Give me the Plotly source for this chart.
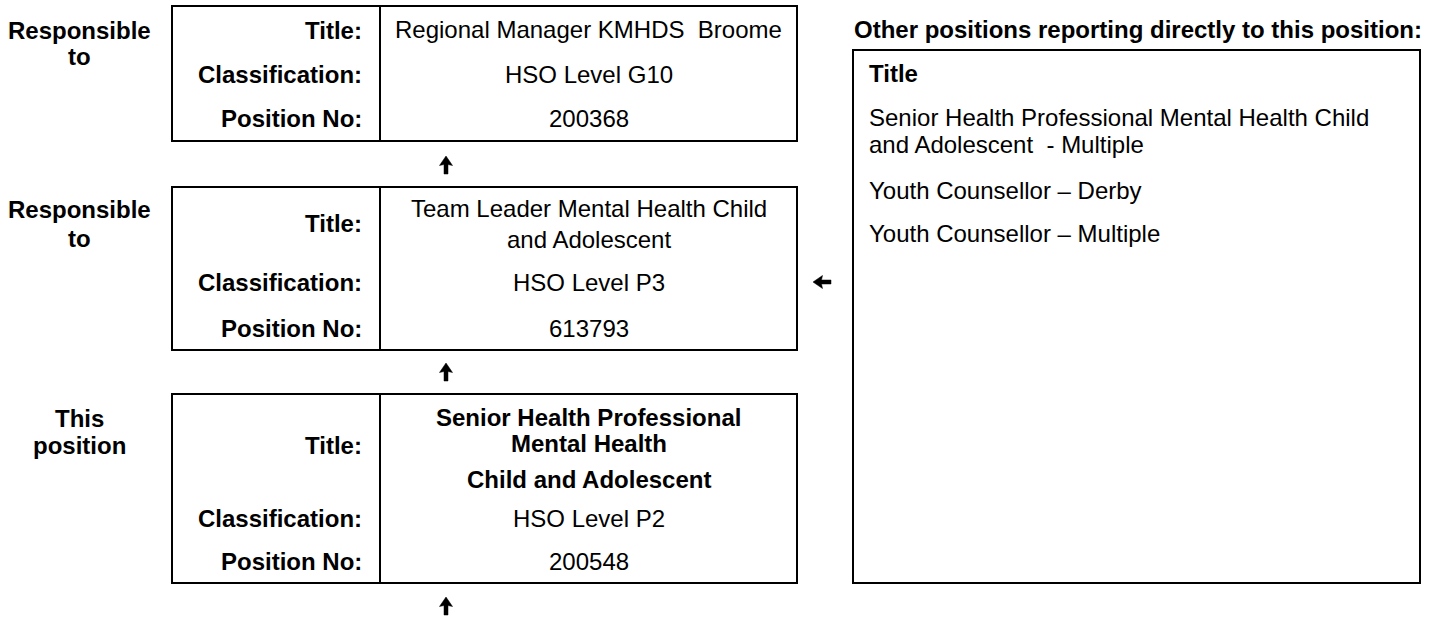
import plotly.graph_objects as go

# ---- content ----
left_labels = [["Responsible", "to"], ["Responsible", "to"], ["This", "position"]]
field_names = ["Title:", "Classification:", "Position No:"]
titles = [
    ["Regional Manager KMHDS\u00a0 Broome"],
    ["Team Leader Mental Health Child", "and Adolescent"],
    ["Senior Health Professional", "Mental Health", "Child and Adolescent"],
]
title_bold = [False, False, True]
classifications = ["HSO Level G10", "HSO Level P3", "HSO Level P2"]
position_nos = ["200368", "613793", "200548"]
other_heading = "Other positions reporting directly to this position:"
other_col_head = "Title"
other_positions = [
    ["Senior Health Professional Mental Health Child", "and Adolescent\u00a0 - Multiple"],
    ["Youth Counsellor \u2013 Derby"],
    ["Youth Counsellor \u2013 Multiple"],
]

# ---- layout geometry (pixels) ----
W, H = 1436, 620
FONT = "Liberation Sans, Arial, sans-serif"
FS = 24
BX0, BDIV, BX1 = 172, 380, 797
boxes_y = [(6, 141), (187, 350), (394, 583)]
field_y = [[30, 74, 118], [223, 282, 328], [445, 518, 561]]
title_line_y = [[29], [208, 239], [417, 443, 479]]
left_label_y = [[30, 56], [209, 238], [418, 445]]

fig = go.Figure()
shapes, ann = [], []

def txt(x, y, s, xanchor="center", bold=False, size=FS):
    ann.append(dict(x=x, y=y, xref="x", yref="y", text=(f"<b>{s}</b>" if bold else s),
                    showarrow=False, xanchor=xanchor, yanchor="middle",
                    font=dict(family=FONT, size=size, color="black")))

for i, (y0, y1) in enumerate(boxes_y):
    shapes.append(dict(type="rect", x0=BX0, x1=BX1, y0=y0, y1=y1, xref="x", yref="y",
                       line=dict(color="black", width=2), fillcolor="rgba(0,0,0,0)"))
    shapes.append(dict(type="line", x0=BDIV, x1=BDIV, y0=y0, y1=y1, xref="x", yref="y",
                       line=dict(color="black", width=2)))
    for j, name in enumerate(field_names):
        txt(364, field_y[i][j], name, xanchor="right", bold=True)
    vx = (BDIV + BX1) / 2
    for k, line in enumerate(titles[i]):
        txt(vx, title_line_y[i][k], line, bold=title_bold[i])
    txt(vx, field_y[i][1], classifications[i])
    txt(vx, field_y[i][2], position_nos[i])
    for k, line in enumerate(left_labels[i]):
        txt(79, left_label_y[i][k], line, bold=True)

# right panel
RX0, RX1, RY0, RY1 = 853, 1420, 50, 583
shapes.append(dict(type="rect", x0=RX0, x1=RX1, y0=RY0, y1=RY1, xref="x", yref="y",
                   line=dict(color="black", width=2), fillcolor="rgba(0,0,0,0)"))
txt(852, 29, other_heading, xanchor="left", bold=True)
txt(867, 73, other_col_head, xanchor="left", bold=True)
other_y = [[117, 144], [190, None], [233, None]]
for i, lines in enumerate(other_positions):
    for k, line in enumerate(lines):
        txt(867, other_y[i][k], line, xanchor="left")

# heavy block arrows drawn as filled paths (decoration)
def arrow(cx, cy, direction):
    pts = [(0, -9), (6.5, 0.5), (2, -0.5), (2, 9), (-2, 9), (-2, -0.5), (-6.5, 0.5)]
    if direction == "left":
        pts = [(py, -px) for px, py in pts]
    path = "M " + " L ".join(f"{cx + px},{cy + py}" for px, py in pts) + " Z"
    shapes.append(dict(type="path", path=path, xref="x", yref="y",
                       fillcolor="black", line=dict(color="black", width=0.5)))

for yy in [165, 372, 606]:
    arrow(446, yy, "up")
arrow(822, 282, "left")

fig.update_layout(
    width=W, height=H, margin=dict(l=0, r=0, t=0, b=0),
    paper_bgcolor="white", plot_bgcolor="white",
    xaxis=dict(range=[0, W], visible=False, fixedrange=True),
    yaxis=dict(range=[H, 0], visible=False, fixedrange=True),
    shapes=shapes, annotations=ann, showlegend=False,
)
fig.write_html("out.html", config={"displayModeBar": False},
               post_script="document.body.style.margin='0px';document.body.style.overflow='hidden';")
